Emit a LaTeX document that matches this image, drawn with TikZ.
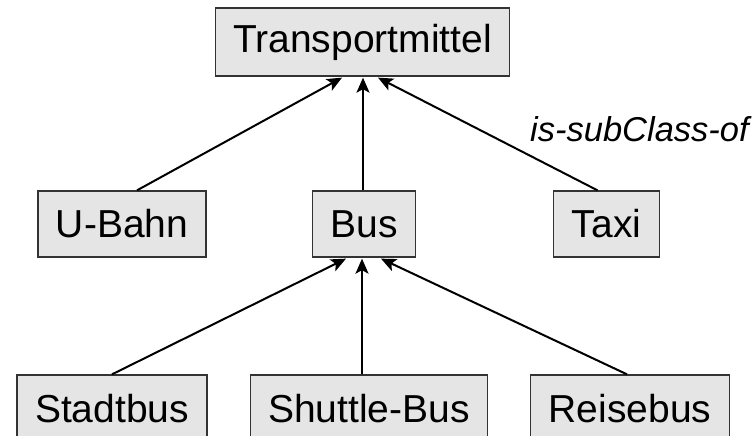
\documentclass[tikz,border=0pt]{standalone}
\usepackage{fontspec}
\setmainfont{Liberation Sans}
\usetikzlibrary{arrows.meta}
\begin{document}
\begin{tikzpicture}[x=1pt,y=1pt,
  cls/.style={draw=black!80, line width=1.3pt, fill=black!10,
    font=\fontsize{39}{41}\selectfont, inner xsep=18pt, inner ysep=0pt,
    minimum height=66pt, anchor=center},
  isa/.style={line width=2pt, -{Stealth[length=15pt,width=13pt,inset=3.5pt]}},
  lbl/.style={font=\fontsize{34.5}{36}\itshape}
]
\useasboundingbox (0,0) rectangle (755,-436);

% class nodes
\node[cls, minimum height=68pt] (tm) at (362.5,-42) {Transportmittel};
\node[cls] (ubahn) at (122,-224) {U-Bahn};
\node[cls] (bus)   at (364,-224) {Bus};
\node[cls] (taxi)  at (606.5,-224) {Taxi};
\node[cls, minimum height=68pt] (stadt)   at (112,-409) {Stadtbus};
\node[cls, minimum height=68pt] (shuttle) at (369,-409) {Shuttle-Bus};
\node[cls, minimum height=68pt] (reise)   at (630,-409) {Reisebus};

% subclass relations
\draw[isa] ([xshift=15pt]ubahn.north) -- ([xshift=-20.5pt,yshift=-1pt]tm.south);
\draw[isa] ([xshift=-1pt]bus.north) -- ([xshift=0.5pt,yshift=-1pt]tm.south);
\draw[isa] ([xshift=-9pt]taxi.north) -- ([xshift=15.5pt,yshift=-1pt]tm.south);

\draw[isa] (stadt.north) -- ([xshift=-18pt,yshift=-1pt]bus.south);
\draw[isa] ([xshift=-7pt]shuttle.north) -- ([xshift=-2pt,yshift=-1pt]bus.south);
\draw[isa] ([xshift=-3pt]reise.north) -- ([xshift=17pt,yshift=-1pt]bus.south);

\node[lbl, anchor=base west, inner sep=0pt] (rel) at (530,-141) {is-subClass-of};
\end{tikzpicture}
\end{document}
